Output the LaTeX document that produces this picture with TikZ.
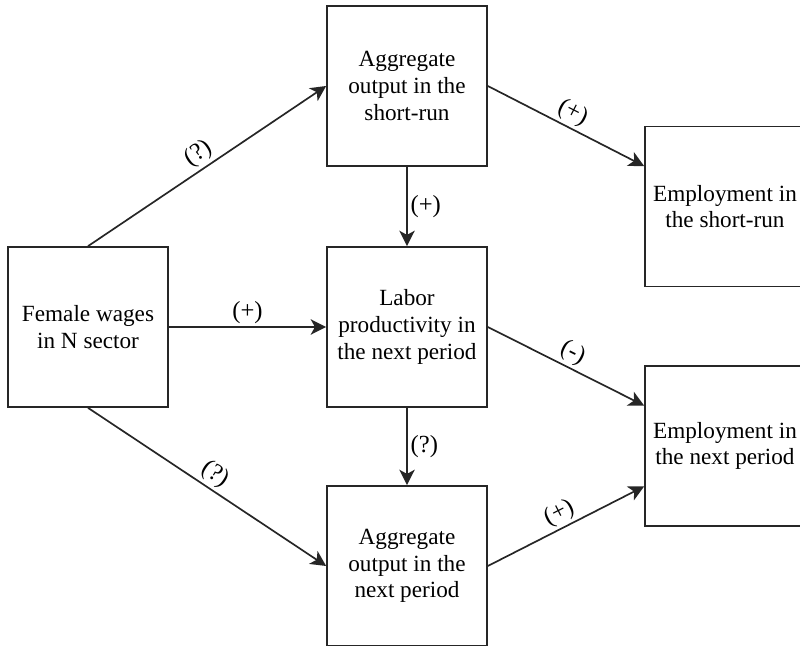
\documentclass[tikz,border=0pt]{standalone}
\usepackage{fontspec}
\setmainfont{Liberation Serif}
\usepackage{tikz}
\usetikzlibrary{arrows.meta,calc}
\tikzset{>={Stealth[length=11pt,width=11pt,inset=3pt]}}
\colorlet{linecol}{black!85}
\tikzset{box/.style={draw=linecol, line width=1.2pt, minimum width=4cm, minimum height=4cm,
    align=center, inner sep=0pt, font=\fontsize{16.5}{19}\selectfont}}
\tikzset{sign/.style={font=\fontsize{17.5}{19}\selectfont, inner sep=2pt}}
\tikzset{link/.style={->, draw=linecol, line width=1.2pt}}

\begin{document}
\begin{tikzpicture}
    \useasboundingbox (0,0) rectangle (20,16.125);

    \node[box] (wage) at (2.2, 7.95) {Female wages\\in N sector};
    \node[box] (outS) at (10.175, 13.975) {Aggregate\\output in the\\short-run};
    \node[box] (prod) at (10.175, 7.95) {Labor\\productivity in\\the next period};
    \node[box] (outN) at (10.175, 1.975) {Aggregate\\output in the\\next period};
    \node[box] (empS) at (18.125, 10.9625) {Employment in\\the short-run};
    \node[box] (empN) at (18.125, 4.975) {Employment in\\the next period};

    \coordinate (empSin) at ($(empS.west)!0.5!(empS.north west)$);
    \coordinate (empNin) at ($(empN.west)!0.5!(empN.north west)$);
    \coordinate (empNlo) at ($(empN.west)!0.5!(empN.south west)$);

    \draw[link] (wage.north) -- (outS.west) node[midway, sloped, above, sign] {(?)};
    \draw[link] (wage.east) -- (prod.west) node[midway, above, sign] {(+)};
    \draw[link] (wage.south) -- (outN.west) node[midway, sloped, above, sign] {(?)};
    \draw[link] (outS.south) -- (prod.north) node[midway, right, sign] {(+)};
    \draw[link] (prod.south) -- (outN.north) node[midway, right, sign] {(?)};
    \draw[link] (outS.east) -- (empSin) node[midway, sloped, above, sign] {(+)};
    \draw[link] (prod.east) -- (empNin) node[midway, sloped, above, sign] {(-)};
    \draw[link] (outN.east) -- (empNlo) node[midway, sloped, above, sign] {(+)};
\end{tikzpicture}
\end{document}
